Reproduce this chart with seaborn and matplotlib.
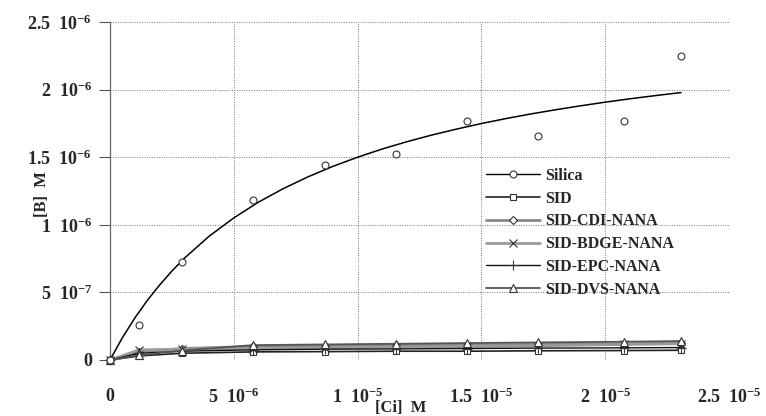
import matplotlib
matplotlib.use("Agg")
import matplotlib.pyplot as plt
import seaborn as sns
import numpy as np
from matplotlib.lines import Line2D

# ---- data ----
conc = [0, 1.18e-6, 2.91e-6, 5.79e-6, 8.67e-6, 1.155e-5, 1.44e-5, 1.728e-5, 2.077e-5, 2.306e-5]
silica = [0, 2.61e-7, 7.24e-7, 1.18e-6, 1.44e-6, 1.52e-6, 1.77e-6, 1.655e-6, 1.767e-6, 2.25e-6]
sid = [0, 0.30e-7, 0.50e-7, 0.60e-7, 0.62e-7, 0.65e-7, 0.65e-7, 0.68e-7, 0.70e-7, 0.72e-7]
sid_cdi = [0, 0.60e-7, 0.85e-7, 1.00e-7, 1.05e-7, 1.10e-7, 1.12e-7, 1.15e-7, 1.20e-7, 1.25e-7]
sid_bdge = [0, 0.75e-7, 0.80e-7, 0.85e-7, 0.90e-7, 0.95e-7, 1.00e-7, 1.05e-7, 1.15e-7, 1.20e-7]
sid_epc = [0, 0.50e-7, 0.65e-7, 0.75e-7, 0.80e-7, 0.82e-7, 0.85e-7, 0.88e-7, 0.90e-7, 0.92e-7]
sid_dvs = [0, 0.35e-7, 0.70e-7, 1.10e-7, 1.15e-7, 1.20e-7, 1.25e-7, 1.30e-7, 1.35e-7, 1.40e-7]

# fitted saturation curve for Silica
fit_x = [0, 0.5e-6, 1e-6, 1.5e-6, 2e-6, 2.5e-6, 3e-6, 4e-6, 5e-6, 6e-6, 7e-6, 8e-6, 9e-6, 1e-5,
         1.1e-5, 1.2e-5, 1.3e-5, 1.4e-5, 1.5e-5, 1.6e-5, 1.7e-5, 1.8e-5, 1.9e-5, 2e-5, 2.1e-5,
         2.2e-5, 2.306e-5]
fit_y = [0, 0.165e-6, 0.310e-6, 0.439e-6, 0.554e-6, 0.658e-6, 0.752e-6, 0.915e-6, 1.051e-6,
         1.168e-6, 1.268e-6, 1.355e-6, 1.432e-6, 1.500e-6, 1.561e-6, 1.615e-6, 1.664e-6,
         1.708e-6, 1.749e-6, 1.786e-6, 1.820e-6, 1.851e-6, 1.880e-6, 1.907e-6, 1.932e-6,
         1.955e-6, 1.978e-6]

series_names = ["SID", "SID-CDI-NANA", "SID-BDGE-NANA", "SID-EPC-NANA", "SID-DVS-NANA"]
series_vals = [sid, sid_cdi, sid_bdge, sid_epc, sid_dvs]

xticks = [0, 5e-6, 1e-5, 1.5e-5, 2e-5, 2.5e-5]
xticklabels = ["0", r"5  10$^{-6}$", r"1  10$^{-5}$", r"1.5  10$^{-5}$", r"2  10$^{-5}$", r"2.5  10$^{-5}$"]
yticks = [0, 5e-7, 1e-6, 1.5e-6, 2e-6, 2.5e-6]
yticklabels = ["0", r"5  10$^{-7}$", r"1  10$^{-6}$", r"1.5  10$^{-6}$", r"2  10$^{-6}$", r"2.5  10$^{-6}$"]

# ---- style ----
sns.set_style("white")
plt.rcParams['font.family'] = ['Liberation Serif', 'DejaVu Serif']
plt.rcParams['font.weight'] = 'bold'
plt.rcParams['mathtext.fontset'] = 'custom'
plt.rcParams['mathtext.rm'] = 'Liberation Serif:bold'
plt.rcParams['mathtext.it'] = 'Liberation Serif:bold'
plt.rcParams['mathtext.bf'] = 'Liberation Serif:bold'
plt.rcParams['mathtext.default'] = 'rm'

fig = plt.figure(figsize=(7.66, 4.16), dpi=100)
ax = fig.add_axes([110/766, 1-360/416, (729-110)/766, (360-22)/416])

styles = [
    dict(color="#222222", lw=1.2, marker="s", ms=5),
    dict(color="#8a8a8a", lw=2.0, marker="D", ms=4.5),
    dict(color="#9a9a9a", lw=2.0, marker="x", ms=5.5),
    dict(color="#111111", lw=1.0, marker="+", ms=7),
    dict(color="#555555", lw=1.3, marker="^", ms=5.5),
]

# silica fit curve
sns.lineplot(x=fit_x, y=fit_y, ax=ax, color="black", lw=1.1, clip_on=False, zorder=3)
# silica points
ax.plot(conc, silica, ls="none", marker="o", ms=5, mfc="white", mec="#333333", mew=0.8,
        clip_on=False, zorder=4)

for name, vals, st in zip(series_names, series_vals, styles):
    sns.lineplot(x=conc, y=vals, ax=ax, color=st["color"], lw=st["lw"], marker=st["marker"],
                 markersize=st["ms"], markerfacecolor="white", markeredgecolor="#333333",
                 markeredgewidth=0.8, clip_on=False, zorder=3)

ax.set_xlim(0, 2.5e-5)
ax.set_ylim(0, 2.5e-6)
ax.set_xticks(xticks)
ax.set_xticklabels(xticklabels, fontsize=13, fontweight='bold')
ax.set_yticks(yticks)
ax.set_yticklabels(yticklabels, fontsize=13, fontweight='bold')
ax.tick_params(axis='x', length=0, pad=20)
ax.tick_params(axis='y', length=8, width=0.8, color="#555555", direction='out', pad=5, left=True)

ax.grid(True, ls=(0, (1, 1.5)), lw=0.7, color="#777777")
for s in ["top", "right", "bottom"]:
    ax.spines[s].set_visible(False)
ax.spines["left"].set_color("#666666")
ax.spines["left"].set_linewidth(0.9)

ax.set_xlabel("[Ci]  M", fontsize=12, fontweight='bold')
ax.set_ylabel("[B]  M", fontsize=12, fontweight='bold')
ax.xaxis.set_label_coords(0.47, -0.142)
ax.yaxis.set_label_coords(-0.11, 0.49)
ax.xaxis.label.set_va("center")
ax.yaxis.label.set_va("center")

handles = [Line2D([], [], color="black", lw=1.0, marker="o", ms=5, mfc="white", mec="#333333", mew=0.8)]
for st in styles:
    handles.append(Line2D([], [], color=st["color"], lw=st["lw"], marker=st["marker"], ms=st["ms"],
                          mfc="white", mec="#333333", mew=0.8))
labels = ["Silica"] + series_names
ax.legend(handles, labels, loc="upper left", bbox_to_anchor=(0.607, 0.568), frameon=False,
          prop=dict(family='Liberation Serif', weight='bold', size=11.5),
          handlelength=3.4, handletextpad=0.35, labelspacing=0.42, borderpad=0, borderaxespad=0)

fig.savefig("out.png", dpi=100)
